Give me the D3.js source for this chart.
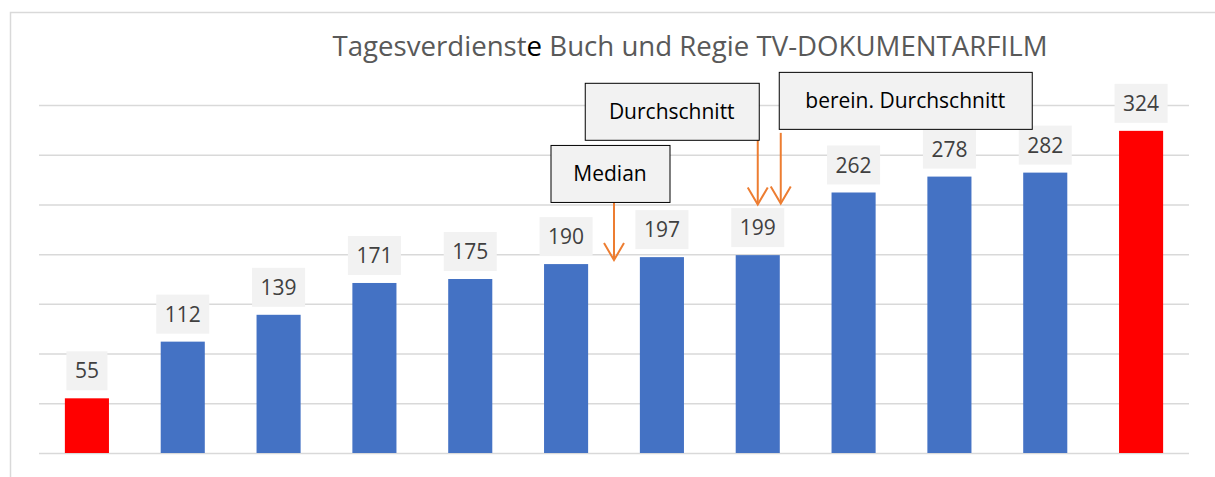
<!DOCTYPE html>
<meta charset="utf-8">
<style>
body { margin: 0; background: #fff; }
svg text { font-family: "Open Sans", "Noto Sans", sans-serif; }
.grid line { stroke: #d9d9d9; stroke-width: 1.5; }
.grid path { display: none; }
</style>
<body>
<div id="chart"></div>
<script src="https://cdnjs.cloudflare.com/ajax/libs/d3/7.8.5/d3.min.js"></script>
<script>

// données
var titleStart = "Tagesverdienst";
var titleMark = "e";
var titleEnd = " Buch und Regie TV-DOKUMENTARFILM";
var categories = ["1", "2", "3", "4", "5", "6", "7", "8", "9", "10", "11", "12"];
var values = [55, 112, 139, 171, 175, 190, 197, 199, 262, 278, 282, 324];
var yTicks = [0, 50, 100, 150, 200, 250, 300, 350];
// annotations : texte, position (en catégories), pointe de la flèche, bas du cadre (en valeurs)
var annoLabels = ["Median", "Durchschnitt", "berein. Durchschnitt"];
var annoPos = [5.5, 7, 7.24];
var annoTip = [194, 250, 251];
var annoBoxBottom = [252.5, 315, 326];

// tailles
var largeur = 1215;
var hauteur = 477;
var margin = {top: 105, right: 25, bottom: 24, left: 39};

var svg = d3.select("#chart")
    .append("svg")
    .attr("width", largeur)
    .attr("height", hauteur);

// cadre
svg.append("rect")
    .attr("x", 10.5)
    .attr("y", 12.5)
    .attr("width", largeur)
    .attr("height", hauteur)
    .attr("fill", "none")
    .attr("stroke", "#d9d9d9")
    .attr("stroke-width", 1.5);

var x = d3.scaleBand()
    .domain(categories)
    .range([margin.left, largeur - margin.right - 1])
    .paddingInner(0.54)
    .paddingOuter(0.27);

var y = d3.scaleLinear()
    .domain([0, 350])
    .range([hauteur - margin.bottom, margin.top]);

// position continue sur l'axe des catégories
function xPos(p) {
    return x(categories[0]) + x.bandwidth() / 2 + p * x.step();
}

// grille
svg.append("g")
    .attr("class", "grid")
    .attr("transform", "translate(" + margin.left + ",0)")
    .call(d3.axisLeft(y).tickValues(yTicks).tickSize(-(largeur - margin.right - 1 - margin.left)).tickFormat(""));

// titre
var title = svg.append("text")
    .attr("x", 690)
    .attr("y", 56)
    .attr("text-anchor", "middle")
    .style("font-size", "24px")
    .attr("fill", "#595959");
title.append("tspan").text(titleStart);
title.append("tspan").attr("fill", "#000").text(titleMark);
title.append("tspan").text(titleEnd);
var tl = title.node().getComputedTextLength();
title.style("font-size", (24 * 715 / tl) + "px");

var vmin = d3.min(values), vmax = d3.max(values);

// barres
svg.selectAll(".bar")
    .data(values)
    .enter().append("rect")
    .attr("class", "bar")
    .attr("x", (d, i) => x(categories[i]))
    .attr("y", d => y(d))
    .attr("width", x.bandwidth())
    .attr("height", d => y(0) - y(d))
    .attr("fill", d => (d === vmin || d === vmax) ? "#FF0000" : "#4472C4");

// étiquettes
var lab = svg.selectAll(".lab")
    .data(values)
    .enter().append("g")
    .attr("class", "lab");
lab.append("rect")
    .attr("fill", "#f2f2f2");
lab.append("text")
    .attr("x", (d, i) => x(categories[i]) + x.bandwidth() / 2)
    .attr("y", d => y(d) - 8 - 19.5)
    .attr("text-anchor", "middle")
    .attr("dy", "0.36em")
    .attr("fill", "#404040")
    .style("font-size", "21px")
    .text(d => d);
lab.each(function(d, i) {
    var w = d3.select(this).select("text").node().getComputedTextLength() + 17;
    d3.select(this).select("rect")
        .attr("x", x(categories[i]) + x.bandwidth() / 2 - w / 2)
        .attr("y", y(d) - 8 - 39)
        .attr("width", w)
        .attr("height", 39);
});

// flèches
var orange = "#ED7D31";
var boxW = [119, 174, 253];
var boxH = 57;
var boxLeft = [
    xPos(annoPos[0]) - boxW[0] / 2 - 4,
    xPos(annoPos[1]) + 1 - boxW[1],
    xPos(annoPos[2]) - 2
];

annoLabels.forEach(function(t, i) {
    var ax = xPos(annoPos[i]);
    var y0 = y(annoBoxBottom[i]) + (i === 2 ? 4 : 0);
    var y1 = y(annoTip[i]);
    svg.append("line")
        .attr("x1", ax).attr("x2", ax)
        .attr("y1", y0).attr("y2", y1 - 1)
        .attr("stroke", orange)
        .attr("stroke-width", 2);
    svg.append("path")
        .attr("d", "M" + (ax - 10) + "," + (y1 - 17) + "L" + ax + "," + y1 + "L" + (ax + 10) + "," + (y1 - 17))
        .attr("fill", "none")
        .attr("stroke", orange)
        .attr("stroke-width", 2);
    var by = y(annoBoxBottom[i]) - boxH;
    svg.append("rect")
        .attr("x", boxLeft[i] + 0.5)
        .attr("y", by + 0.5)
        .attr("width", boxW[i])
        .attr("height", boxH)
        .attr("fill", "#f2f2f2")
        .attr("stroke", "#000")
        .attr("stroke-width", 1);
    svg.append("text")
        .attr("x", boxLeft[i] + boxW[i] / 2)
        .attr("y", by + boxH / 2)
        .attr("dy", "0.36em")
        .attr("text-anchor", "middle")
        .attr("fill", "#000")
        .style("font-size", "21px")
        .text(t);
});

</script>
</body>
